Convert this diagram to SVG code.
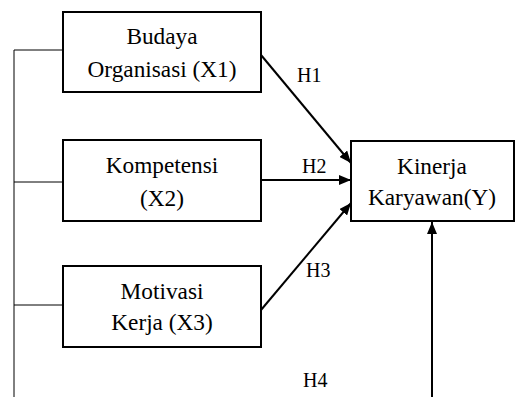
<svg xmlns="http://www.w3.org/2000/svg" width="516" height="397" viewBox="0 0 516 397">
<style>
.box{fill:#fff;stroke:#000;stroke-width:2}
.t{font-size:23.3px;fill:#000;text-anchor:middle}
.h{font-size:20px;fill:#000}
.thin{stroke:#000;stroke-width:1;fill:none}
.arr{stroke:#000;stroke-width:2;fill:none;marker-end:url(#ah)}
</style>
<defs>
<marker id="ah" viewBox="0 0 12 10" refX="12" refY="5" markerWidth="12" markerHeight="10" markerUnits="userSpaceOnUse" orient="auto">
<path d="M0,0 L12,5 L0,10 Z" fill="#000"/>
</marker>
</defs>
<g id="connectors" font-family="'Liberation Serif', serif">
<path class="thin" d="M14,397 V50 H63 M14,182 H63 M14,305 H63"/>
<line class="arr" x1="261" y1="55" x2="351" y2="163"/>
<line class="arr" x1="261" y1="180" x2="351" y2="180"/>
<line class="arr" x1="261" y1="310" x2="351" y2="203"/>
<line class="arr" x1="432" y1="397" x2="432" y2="222"/>
<text class="h" x="297" y="82">H1</text>
<text class="h" x="302" y="173">H2</text>
<text class="h" x="306" y="277">H3</text>
<text class="h" x="303" y="387">H4</text>
</g>
<g id="x1" font-family="'Liberation Serif', serif">
<rect class="box" x="63" y="12" width="198" height="80"/>
<text class="t" x="162" y="44">Budaya</text>
<text class="t" x="162" y="77">Organisasi (X1)</text>
</g>
<g id="x2" font-family="'Liberation Serif', serif">
<rect class="box" x="63" y="140" width="198" height="81"/>
<text class="t" x="162" y="173">Kompetensi</text>
<text class="t" x="162" y="206">(X2)</text>
</g>
<g id="x3" font-family="'Liberation Serif', serif">
<rect class="box" x="63" y="266" width="198" height="81"/>
<text class="t" x="162" y="299">Motivasi</text>
<text class="t" x="162" y="330">Kerja (X3)</text>
</g>
<g id="y" font-family="'Liberation Serif', serif">
<rect class="box" x="351" y="141" width="163" height="80"/>
<text class="t" x="432" y="174">Kinerja</text>
<text class="t" x="432" y="205">Karyawan(Y)</text>
</g>
</svg>
